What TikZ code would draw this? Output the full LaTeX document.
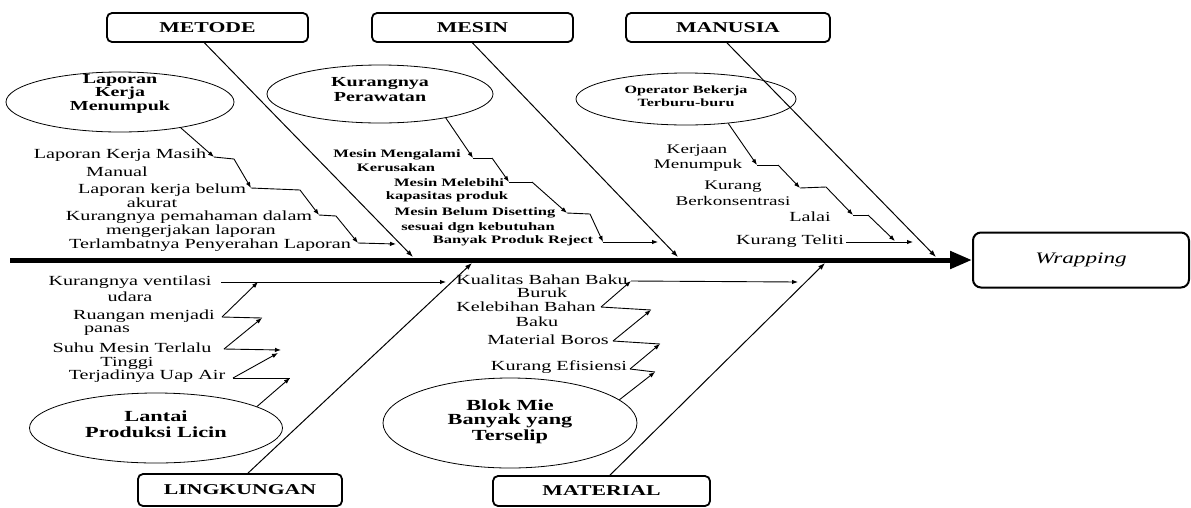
\documentclass[tikz,border=0pt]{standalone}
\usepackage{graphicx}
\usepackage{fontspec}
\setmainfont{Liberation Serif}
\usetikzlibrary{arrows.meta,shapes.geometric,calc}
\newcommand\fsz[2]{\fontsize{#1}{#2}\selectfont}
\newcommand\sx[1]{\scalebox{1.45}[1]{#1}}
\begin{document}
\begin{tikzpicture}[x=1pt,y=-1pt,
  catbox/.style={draw, line width=1.8pt, rounded corners=5pt, minimum width=201pt, minimum height=29pt, inner sep=0pt, font=\fsz{15}{17}\bfseries},
  oval/.style={draw, ellipse, line width=0.8pt, inner sep=0pt},
  txt/.style={inner sep=0pt},
  otx/.style={txt, font=\fsz{13.8}{14}\bfseries},
  cause/.style={txt, font=\fsz{13.9}{14}},
  bcause/.style={txt, font=\fsz{11.4}{13}\bfseries},
  link/.style={line width=0.9pt},
  arr/.style={line width=0.9pt, -{Latex[length=6pt,width=4.5pt]}},
  bone/.style={line width=1pt, -{Latex[length=7pt,width=5pt]}},
  spine/.style={line width=5pt, -{Triangle[length=22pt,width=17pt]}}]
\useasboundingbox (0,0) rectangle (1191,507);

% categories and effect
\node[catbox] (metode) at (207.5,27.5) {\sx{METODE}};
\node[catbox] (mesin) at (472.5,27.5) {\sx{MESIN}};
\node[catbox, minimum width=204pt] (manusia) at (728,27.5) {\sx{MANUSIA}};
\node[catbox, minimum width=204pt, minimum height=32pt] (lingk) at (240,490) {\sx{LINGKUNGAN}};
\node[catbox, minimum width=217pt, minimum height=30pt] (material) at (601.5,491) {\sx{MATERIAL}};
\node[draw, line width=2pt, rounded corners=8pt, minimum width=216pt, minimum height=55pt, inner sep=0pt, font=\fsz{16}{18}\itshape] (wrap) at (1081,260) {\sx{Wrapping}};

% spine
\coordinate (s0) at (10,260);
\draw[spine] (s0) -- (wrap.west);

% bones
\coordinate (tip1) at (413,257);
\coordinate (tip2) at (678,257);
\coordinate (tip3) at (936,257);
\coordinate (tip4) at (472,263);
\coordinate (tip5) at (825,263);
\draw[bone] ($(metode.south)+(-3,0)$) -- (tip1);
\draw[bone] (mesin.south) -- (tip2);
\draw[bone] ($(manusia.south)+(-1,0)$) -- (tip3);
\draw[bone] ($(lingk.north)+(8,0)$) -- (tip4);
\draw[bone] ($(material.north)+(8.5,0)$) -- (tip5);

% ellipses and their texts
\node[oval, minimum width=228pt, minimum height=60pt] (e1) at (120,102) {};
\node[otx] (e1a) at (120,80) {\sx{Laporan}};
\node[otx] (e1b) at (120,93.5) {\sx{Kerja}};
\node[otx] (e1c) at (120,107) {\sx{Menumpuk}};
\node[oval, minimum width=226pt, minimum height=58pt] (e2) at (380,94) {};
\node[otx] (e2a) at (380,83) {\sx{Kurangnya}};
\node[otx] (e2b) at (380,97) {\sx{Perawatan}};
\node[oval, minimum width=220pt, minimum height=52pt] (e3) at (686,99) {};
\node[otx, font=\fsz{11.1}{12}\bfseries] (e3a) at (686,91) {\sx{Operator Bekerja}};
\node[otx, font=\fsz{11.1}{12}\bfseries] (e3b) at (686,102.5) {\sx{Terburu-buru}};
\node[oval, minimum width=253pt, minimum height=70pt] (e4) at (156,428) {};
\node[otx, font=\fsz{15.4}{16}\bfseries] (e4a) at (156,416) {\sx{Lantai}};
\node[otx, font=\fsz{15.4}{16}\bfseries] (e4b) at (156,432) {\sx{Produksi Licin}};
\node[oval, minimum width=254pt, minimum height=90pt] (e5) at (510,423) {};
\node[otx, font=\fsz{15.4}{16}\bfseries] (e5a) at (510,405) {\sx{Blok Mie}};
\node[otx, font=\fsz{15.4}{16}\bfseries] (e5b) at (510,421) {\sx{Banyak yang}};
\node[otx, font=\fsz{15.4}{16}\bfseries] (e5c) at (510,437) {\sx{Terselip}};

% METODE chain
\node[cause] (t11a) at (120,155) {\sx{Laporan Kerja Masih}};
\node[cause] (t11b) at (117,172) {\sx{Manual}};
\node[cause] (t12a) at (162,190) {\sx{Laporan kerja belum}};
\node[cause] (t12b) at (152,203) {\sx{akurat}};
\node[cause] (t13a) at (189,217) {\sx{Kurangnya pemahaman dalam}};
\node[cause] (t13b) at (191,231) {\sx{mengerjakan laporan}};
\node[cause] (t14) at (210,245.5) {\sx{Terlambatnya Penyerahan Laporan}};
\coordinate (a1) at (214,157); \coordinate (a1b) at (234,159);
\coordinate (a2) at (251,188); \coordinate (a2b) at (300,190);
\coordinate (a3) at (319,215); \coordinate (a3b) at (336,216);
\coordinate (a4) at (358,243); \coordinate (a4e) at (396,244);
\draw[arr] (e1.-23) -- (a1);
\draw[link] (a1) -- (a1b);
\draw[arr] (a1b) -- (a2);
\draw[link] (a2) -- (a2b);
\draw[arr] (a2b) -- (a3);
\draw[link] (a3) -- (a3b);
\draw[arr] (a3b) -- (a4);
\draw[arr] (a4) -- (a4e);

% MESIN chain
\node[bcause] (m21a) at (397,155) {\sx{Mesin Mengalami}};
\node[bcause] (m21b) at (396,168) {\sx{Kerusakan}};
\node[bcause] (m22a) at (449,183) {\sx{Mesin Melebihi}};
\node[bcause] (m22b) at (447,197) {\sx{kapasitas produk}};
\node[bcause] (m23a) at (475,213) {\sx{Mesin Belum Disetting}};
\node[bcause] (m23b) at (478,228) {\sx{sesuai dgn kebutuhan}};
\node[bcause] (m24) at (513,241) {\sx{Banyak Produk Reject}};
\coordinate (b1) at (473,158); \coordinate (b1b) at (492,158);
\coordinate (b2) at (509,182); \coordinate (b2b) at (532,182);
\coordinate (b3) at (567,213); \coordinate (b3b) at (590,214);
\coordinate (b4) at (603,242); \coordinate (b4e) at (658,242);
\draw[arr] (e2.-20) -- (b1);
\draw[link] (b1) -- (b1b);
\draw[arr] (b1b) -- (b2);
\draw[link] (b2) -- (b2b);
\draw[arr] (b2b) -- (b3);
\draw[link] (b3) -- (b3b);
\draw[arr] (b3b) -- (b4);
\draw[arr] (b4) -- (b4e);

% MANUSIA chain
\node[cause, font=\fsz{13.2}{14}] (t31a) at (697,151) {\sx{Kerjaan}};
\node[cause, font=\fsz{13.2}{14}] (t31b) at (698,165) {\sx{Menumpuk}};
\node[cause, font=\fsz{13.2}{14}] (t32a) at (733,187) {\sx{Kurang}};
\node[cause, font=\fsz{13.2}{14}] (t32b) at (733,201) {\sx{Berkonsentrasi}};
\node[cause] (t33) at (810,217) {\sx{Lalai}};
\node[cause] (t34) at (790,241) {\sx{Kurang Teliti}};
\coordinate (c1) at (757,165); \coordinate (c1b) at (778,165);
\coordinate (c2) at (800,188); \coordinate (c2b) at (826,187);
\coordinate (c3) at (853,215); \coordinate (c3b) at (868,215);
\coordinate (c4) at (895,241); \coordinate (c4e) at (913,242);
\draw[arr] (e3.-30) -- (c1);
\draw[link] (c1) -- (c1b);
\draw[arr] (c1b) -- (c2);
\draw[link] (c2) -- (c2b);
\draw[arr] (c2b) -- (c3);
\draw[link] (c3) -- (c3b);
\draw[arr] (c3b) -- (c4);
\draw[arr] ($(t34.east)+(2,1)$) -- (c4e);

% LINGKUNGAN chain
\node[cause] (t41a) at (130,282) {\sx{Kurangnya ventilasi}};
\node[cause] (t41b) at (130,297) {\sx{udara}};
\node[cause] (t42a) at (144,316) {\sx{Ruangan menjadi}};
\node[cause] (t42b) at (107,331) {\sx{panas}};
\node[cause] (t43a) at (132,348) {\sx{Suhu Mesin Terlalu}};
\node[cause] (t43b) at (127,363) {\sx{Tinggi}};
\node[cause] (t44) at (147,376) {\sx{Terjadinya Uap Air}};
\coordinate (d1) at (221,282); \coordinate (d1e) at (446,282);
\coordinate (h1) at (258,282);
\coordinate (r2) at (222,317); \coordinate (h2) at (262,318);
\coordinate (r3) at (224,349); \coordinate (h3) at (281,350);
\coordinate (r4) at (233,378); \coordinate (h3b) at (278,353);
\coordinate (h4) at (290,378);
\draw[arr] (d1) -- (d1e);
\draw[arr] (r2) -- (h1);
\draw[link] (r2) -- (h2);
\draw[arr] (r3) -- (h2);
\draw[arr] (r3) -- (h3);
\draw[arr] (r4) -- (h3b);
\draw[link] (r4) -- (h4);
\draw[arr] (e4.12) -- (h4);

% MATERIAL chain
\node[cause] (t51a) at (542,280) {\sx{Kualitas Bahan Baku}};
\node[cause] (t51b) at (542,293) {\sx{Buruk}};
\node[cause] (t52a) at (526,307) {\sx{Kelebihan Bahan}};
\node[cause] (t52b) at (537,322) {\sx{Baku}};
\node[cause] (t53) at (548,340) {\sx{Material Boros}};
\node[cause] (t54) at (559,367) {\sx{Kurang Efisiensi}};
\coordinate (g1) at (631,281); \coordinate (g1e) at (798,282);
\coordinate (k2) at (601,307); \coordinate (h52) at (651,310);
\coordinate (k3) at (613,341); \coordinate (h53) at (660,344);
\coordinate (k4) at (630,369); \coordinate (h54) at (655,372);
\draw[arr] (g1) -- (g1e);
\draw[arr] (k2) -- (g1);
\draw[link] (k2) -- (h52);
\draw[arr] (k3) -- (h52);
\draw[link] (k3) -- (h53);
\draw[arr] (k4) -- (h53);
\draw[link] (k4) -- (h54);
\draw[arr] (e5.12) -- (h54);
\end{tikzpicture}
\end{document}
